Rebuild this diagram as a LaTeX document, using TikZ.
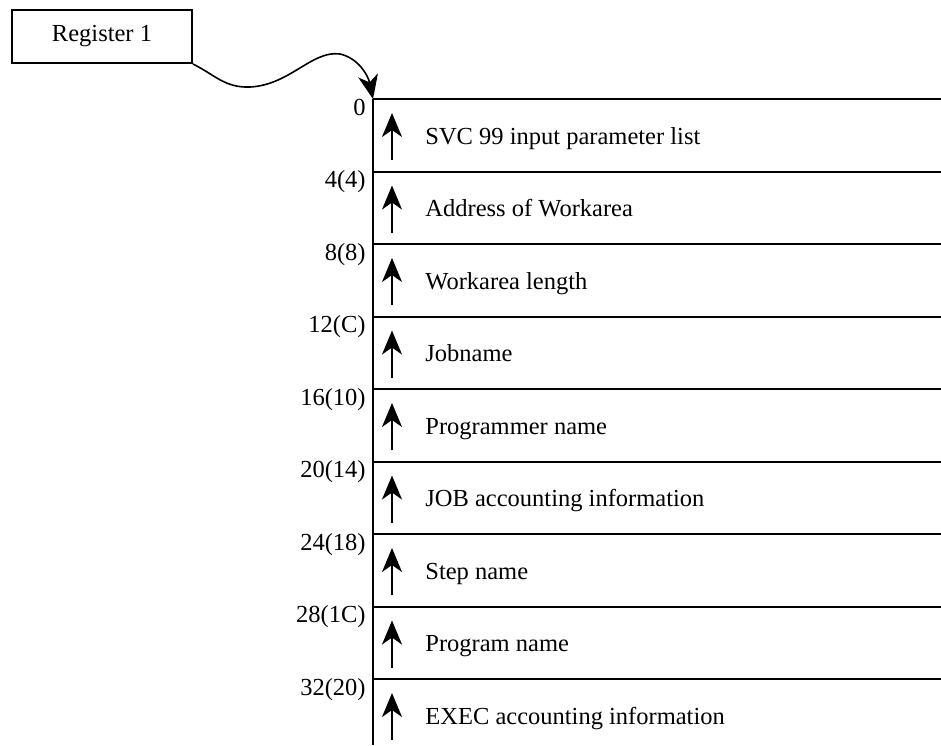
\documentclass[tikz,border=0pt]{standalone}
\usepackage{fontspec}
\setmainfont{Liberation Serif}
\usetikzlibrary{arrows.meta,positioning}
\tikzset{
  regbox/.style={rectangle, draw, line width=1pt, minimum width=90pt, minimum height=26.5pt,
                 inner sep=0pt, font=\fontsize{12.25}{14}\selectfont},
  offset/.style={anchor=base east, inner sep=0pt, font=\fontsize{12.25}{14}\selectfont},
  field/.style={anchor=base west, inner sep=0pt, font=\fontsize{12.25}{14}\selectfont},
  rowline/.style={line width=1pt},
  ptr/.style={-{Stealth[length=12pt, width=10pt, inset=3.5pt]}, line width=0.8pt},
  upmark/.style={-{Stealth[length=12pt, width=10pt, inset=3.5pt]}, line width=0.8pt},
}
\begin{document}
\begin{tikzpicture}[x=0.5pt, y=-0.5pt]
  \useasboundingbox (0,0) rectangle (941,745);
  \node[regbox] (reg) at (102,36.5) {Register 1};
  \coordinate (top) at (373,99);
  \coordinate (bottom) at (373,745);
  \draw[rowline] (top) -- (bottom);
  \foreach \off/\txt [count=\i from 0] in {0/SVC 99 input parameter list, 4(4)/Address of Workarea,
      8(8)/Workarea length, 12(C)/Jobname, 16(10)/Programmer name,
      20(14)/JOB accounting information, 24(18)/Step name, 28(1C)/Program name,
      32(20)/EXEC accounting information} {
    \coordinate (row\i) at (373,99+72.5*\i);
    \coordinate (rowend\i) at (941,99+72.5*\i);
    \draw[rowline] (row\i) -- (rowend\i);
    \node[offset] (off\i) at (366,115+72.5*\i) {\off};
    \coordinate (tail\i) at (392,160+72.5*\i);
    \coordinate (tip\i) at (392,113+72.5*\i);
    \draw[upmark] (tail\i) -- (tip\i);
    \node[field] (fld\i) at (425,144+72.5*\i) {\txt};
  }
  % pointer from Register 1 to the list
  \draw[ptr] (reg.south east) .. controls (215,75) and (225,88) .. (250,87)
    .. controls (290,85) and (312,50) .. (340,54)
    .. controls (358,58) and (368,75) .. (top);
\end{tikzpicture}
\end{document}
